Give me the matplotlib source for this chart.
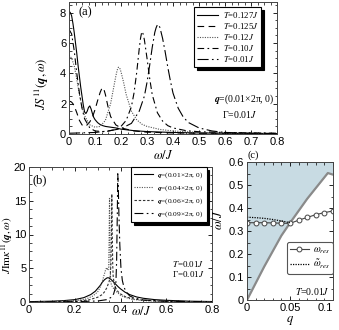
import matplotlib
matplotlib.use("Agg")
import matplotlib.pyplot as plt
from matplotlib.ticker import MultipleLocator, FuncFormatter

plt.rcParams['font.family'] = 'serif'
plt.rcParams['font.serif'] = ['Liberation Serif', 'DejaVu Serif']
plt.rcParams['mathtext.fontset'] = 'stix'

# ---------------- panel (a) data ----------------
w_a127 = [0, 0.005, 0.01, 0.015, 0.02, 0.025, 0.03, 0.035, 0.04, 0.045, 0.05, 0.055, 0.06, 0.065, 0.07,
          0.075, 0.08, 0.085, 0.09, 0.095, 0.10, 0.11, 0.12, 0.13, 0.14, 0.16, 0.18, 0.2, 0.25, 0.3, 0.4,
          0.5, 0.6, 0.7, 0.8]
s_a127 = [8.1, 8.0, 7.8, 7.3, 6.7, 6.0, 5.3, 4.5, 3.8, 3.1, 2.5, 1.9, 1.45, 1.35, 1.5,
          1.75, 1.85, 1.65, 1.35, 1.1, 0.95, 0.75, 0.62, 0.55, 0.5, 0.45, 0.4, 0.32, 0.22, 0.16, 0.1,
          0.07, 0.05, 0.04, 0.03]

w_a125 = [0, 0.005, 0.01, 0.015, 0.02, 0.03, 0.04, 0.05, 0.06, 0.07, 0.08, 0.09, 0.10, 0.11, 0.12, 0.125,
          0.13, 0.135, 0.14, 0.15, 0.16, 0.18, 0.2, 0.25, 0.3, 0.4, 0.5, 0.6, 0.8]
s_a125 = [2.1, 2.15, 2.1, 2.0, 1.85, 1.4, 0.9, 0.6, 0.5, 0.6, 0.8, 1.1, 1.6, 2.2, 2.75, 2.95,
          3.05, 2.9, 2.6, 1.8, 1.15, 0.6, 0.4, 0.2, 0.12, 0.07, 0.05, 0.04, 0.02]

w_a12 = [0, 0.01, 0.02, 0.03, 0.04, 0.05, 0.06, 0.08, 0.10, 0.12, 0.14, 0.16, 0.17, 0.18, 0.185, 0.19,
         0.195, 0.2, 0.21, 0.22, 0.24, 0.26, 0.28, 0.3, 0.35, 0.4, 0.5, 0.6, 0.8]
s_a12 = [5.2, 5.0, 4.5, 3.6, 2.6, 1.8, 1.2, 0.6, 0.45, 0.5, 0.9, 2.0, 2.9, 3.8, 4.2, 4.4,
         4.35, 4.1, 3.4, 2.6, 1.5, 0.95, 0.65, 0.5, 0.3, 0.2, 0.1, 0.07, 0.04]

w_a10 = [0, 0.01, 0.02, 0.03, 0.04, 0.05, 0.06, 0.08, 0.10, 0.14, 0.18, 0.2, 0.22, 0.24, 0.25, 0.26,
         0.27, 0.275, 0.28, 0.285, 0.29, 0.3, 0.31, 0.32, 0.34, 0.36, 0.38, 0.4, 0.45, 0.5, 0.6, 0.8]
s_a10 = [6.9, 6.6, 5.5, 4.0, 2.7, 1.7, 1.0, 0.4, 0.2, 0.15, 0.3, 0.5, 0.9, 1.8, 2.7, 4.0,
         5.6, 6.3, 6.75, 6.6, 6.2, 5.0, 3.7, 2.6, 1.4, 0.85, 0.55, 0.4, 0.22, 0.15, 0.1, 0.05]

w_a01 = [0, 0.1, 0.15, 0.2, 0.24, 0.27, 0.29, 0.3, 0.31, 0.32, 0.33, 0.335, 0.34, 0.345, 0.35, 0.36,
         0.37, 0.38, 0.39, 0.4, 0.42, 0.44, 0.46, 0.5, 0.55, 0.6, 0.7, 0.8]
s_a01 = [0.05, 0.1, 0.2, 0.35, 0.7, 1.5, 2.5, 3.4, 4.5, 5.7, 6.7, 7.0, 7.2, 7.2, 7.0, 6.3,
         5.4, 4.4, 3.5, 2.7, 1.7, 1.1, 0.75, 0.4, 0.2, 0.1, 0.05, 0.03]

labels_a = [r"$T$=0.127$J$", r"$T$=0.125$J$", r"$T$=0.12$J$", r"$T$=0.10$J$", r"$T$=0.01$J$"]

# ---------------- panel (b) data ----------------
w_b1 = [0, 0.1, 0.15, 0.2, 0.24, 0.27, 0.29, 0.31, 0.32, 0.33, 0.34, 0.345, 0.35, 0.36, 0.37, 0.38,
        0.39, 0.40, 0.42, 0.44, 0.47, 0.5, 0.55, 0.6, 0.7, 0.8]
v_b1 = [0.05, 0.12, 0.2, 0.35, 0.65, 1.1, 1.6, 2.4, 2.9, 3.3, 3.55, 3.6, 3.55, 3.3, 2.95, 2.6,
        2.25, 1.95, 1.45, 1.1, 0.75, 0.55, 0.35, 0.25, 0.12, 0.07]

w_b4 = [0, 0.1, 0.2, 0.25, 0.28, 0.3, 0.31, 0.32, 0.33, 0.335, 0.34, 0.345, 0.348, 0.35, 0.352, 0.354,
        0.356, 0.358, 0.362, 0.37, 0.38, 0.4, 0.42, 0.45, 0.5, 0.6, 0.8]
v_b4 = [0.03, 0.06, 0.2, 0.45, 0.9, 1.5, 2.1, 3.0, 4.2, 4.8, 5.1, 4.7, 5.0, 9.0, 15.5, 9.0,
        4.0, 2.8, 2.4, 2.0, 1.6, 1.0, 0.7, 0.4, 0.2, 0.08, 0.03]

w_b6 = [0, 0.2, 0.26, 0.3, 0.32, 0.33, 0.34, 0.35, 0.355, 0.358, 0.36, 0.362, 0.364, 0.366, 0.368,
        0.372, 0.38, 0.39, 0.4, 0.42, 0.45, 0.5, 0.6, 0.8]
v_b6 = [0.02, 0.1, 0.3, 0.7, 1.1, 1.5, 2.1, 3.0, 3.8, 5.5, 9.0, 16.0, 10.0, 5.5, 3.8,
        2.8, 2.0, 1.5, 1.2, 0.8, 0.5, 0.25, 0.1, 0.03]

w_b9 = [0, 0.2, 0.3, 0.34, 0.36, 0.37, 0.375, 0.38, 0.383, 0.386, 0.388, 0.39, 0.393, 0.397, 0.402,
        0.408, 0.415, 0.425, 0.44, 0.46, 0.5, 0.6, 0.8]
v_b9 = [0.01, 0.05, 0.15, 0.35, 0.7, 1.2, 1.8, 3.0, 6.0, 13.0, 19.0, 17.5, 13.0, 8.5, 5.0,
        3.2, 2.2, 1.5, 0.9, 0.6, 0.3, 0.1, 0.03]

labels_b = [r"$\boldsymbol{q}$=(0.01×2π, 0)", r"$\boldsymbol{q}$=(0.04×2π, 0)",
            r"$\boldsymbol{q}$=(0.06×2π, 0)", r"$\boldsymbol{q}$=(0.09×2π, 0)"]

# ---------------- panel (c) data ----------------
q_res = [0, 0.01, 0.02, 0.03, 0.04, 0.05, 0.06, 0.07, 0.08, 0.09, 0.10]
w_res = [0.336, 0.336, 0.336, 0.335, 0.334, 0.333, 0.347, 0.359, 0.371, 0.380, 0.387]
q_tres = [0, 0.01, 0.02, 0.03, 0.04, 0.05]
w_tres = [0.360, 0.358, 0.355, 0.350, 0.344, 0.336]
q_bnd = [0, 0.02, 0.04, 0.05, 0.07, 0.094, 0.10]
w_bnd = [0, 0.145, 0.28, 0.335, 0.44, 0.552, 0.545]
c_xticks = [0, 0.05, 0.1]
c_xticklabels = ['0', '0.05', '0.1']

W, H = 339, 330
fig = plt.figure(figsize=(W / 100, H / 100), dpi=100)
fmt = FuncFormatter(lambda v, p: f"{v:g}")


def axes_px(x0, y0, x1, y1):
    return fig.add_axes([x0 / W, 1 - y1 / H, (x1 - x0) / W, (y1 - y0) / H])


def style(ax):
    ax.xaxis.set_major_formatter(fmt)
    ax.yaxis.set_major_formatter(fmt)
    ax.tick_params(which='both', direction='in', top=True, right=True, labelsize=8, pad=2)
    ax.tick_params(which='major', length=3, width=0.6)
    ax.tick_params(which='minor', length=1.8, width=0.5)
    for sp in ax.spines.values():
        sp.set_linewidth(0.7)
        sp.set_color('#444444')
    for lab in ax.get_xticklabels() + ax.get_yticklabels():
        lab.set_fontfamily('Liberation Sans')


# ---- (a)
axa = axes_px(69, 2, 277, 134)
axa.plot(w_a127, s_a127, color='k', lw=0.8, ls='-', label=labels_a[0])
axa.plot(w_a125, s_a125, color='k', lw=0.8, ls=(0, (6, 4)), label=labels_a[1])
axa.plot(w_a12, s_a12, color='#555555', lw=0.8, ls=(0, (1, 1.2)), label=labels_a[2])
axa.plot(w_a10, s_a10, color='k', lw=0.8, ls=(0, (6, 3, 1.5, 3)), label=labels_a[3])
axa.plot(w_a01, s_a01, color='k', lw=0.8, ls=(0, (10, 3, 1.5, 3)), label=labels_a[4])
axa.set_xlim(0, 0.8)
axa.set_ylim(0, 8.7)
axa.xaxis.set_major_locator(MultipleLocator(0.1))
axa.xaxis.set_minor_locator(MultipleLocator(0.025))
axa.yaxis.set_major_locator(MultipleLocator(2))
axa.yaxis.set_minor_locator(MultipleLocator(0.5))
style(axa)
axa.set_ylabel(r"$JS^{11}(\boldsymbol{q},\omega)$", fontsize=9)
axa.yaxis.set_label_coords(-0.085, 0.38)
axa.set_xlabel(r"$\omega/J$", fontsize=9, labelpad=0)
axa.xaxis.set_label_coords(0.45, -0.11)
leg = axa.legend(loc='upper right', bbox_to_anchor=(0.925, 0.962), fontsize=6.3, frameon=True,
                 fancybox=False, edgecolor='k', framealpha=1, handlelength=2.4, handletextpad=0.5,
                 labelspacing=0.12, borderpad=0.35, borderaxespad=0,
                 shadow={'color': 'k', 'alpha': 1})
leg.get_frame().set_linewidth(0.8)
axa.text(0.99, 0.26, r"$\boldsymbol{q}$=(0.01×2π, 0)", transform=axa.transAxes, ha='right',
         va='center', fontsize=7)
axa.text(0.82, 0.145, r"Γ=0.01$J$", transform=axa.transAxes, ha='center', va='center', fontsize=7)
axa.text(0.08, 0.92, "(a)", transform=axa.transAxes, ha='center', va='center', fontsize=9)

# ---- (b)
axb = axes_px(29, 167, 212, 302)
axb.plot(w_b1, v_b1, color='k', lw=0.8, ls='-', label=labels_b[0])
axb.plot(w_b4, v_b4, color='#555555', lw=0.8, ls=(0, (1, 1.2)), label=labels_b[1])
axb.plot(w_b6, v_b6, color='#333333', lw=0.8, ls=(0, (2.2, 1.6)), label=labels_b[2])
axb.plot(w_b9, v_b9, color='k', lw=0.8, ls=(0, (8, 3, 1.5, 3)), label=labels_b[3])
axb.set_xlim(0, 0.8)
axb.set_ylim(0, 20)
axb.xaxis.set_major_locator(MultipleLocator(0.2))
axb.xaxis.set_minor_locator(MultipleLocator(0.05))
axb.yaxis.set_major_locator(MultipleLocator(5))
axb.yaxis.set_minor_locator(MultipleLocator(1.25))
style(axb)
axb.set_ylabel(r"$J\mathrm{Im}\kappa^{11}(\boldsymbol{q},\omega)$", fontsize=8)
axb.yaxis.set_label_coords(-0.078, 0.42)
axb.text(0.61, -0.02, r"$\omega/J$", transform=axb.transAxes, ha='center', va='top', fontsize=9)
legb = axb.legend(loc='upper right', bbox_to_anchor=(0.97, 1.0), fontsize=5.3, frameon=True,
                  fancybox=False, edgecolor='k', framealpha=1, handlelength=2.6, handletextpad=0.5,
                  labelspacing=0.45, borderpad=0.45, borderaxespad=0,
                  shadow={'color': 'k', 'alpha': 1})
legb.get_frame().set_linewidth(0.8)
axb.text(0.96, 0.28, r"$T$=0.01$J$", transform=axb.transAxes, ha='right', va='center', fontsize=6.5)
axb.text(0.96, 0.21, r"Γ=0.01$J$", transform=axb.transAxes, ha='right', va='center', fontsize=6.5)
axb.text(0.06, 0.9, "(b)", transform=axb.transAxes, ha='center', va='center', fontsize=9)

# ---- (c)
axc = axes_px(247, 162, 333, 300)
axc.fill_between(q_bnd, w_bnd, 0.6, color='#c8dbe3', lw=0)
axc.plot(q_bnd, w_bnd, color='#8a8a8a', lw=1.6)
axc.plot(q_res, w_res, color='#444444', lw=0.8, marker='o', ms=3.5, mfc='white', mec='#444444',
         mew=0.7, label=r"$\omega_{\mathit{res}}$")
axc.plot(q_tres, w_tres, color='k', lw=0.9, ls=(0, (1, 1)), label=r"$\tilde{\omega}_{\mathit{res}}$")
axc.set_xlim(0, 0.1)
axc.set_ylim(0, 0.6)
axc.yaxis.set_major_locator(MultipleLocator(0.1))
axc.yaxis.set_minor_locator(MultipleLocator(0.05))
axc.xaxis.set_minor_locator(MultipleLocator(0.01))
style(axc)
axc.set_xticks(c_xticks)
axc.set_xticklabels(c_xticklabels, fontfamily='Liberation Sans', fontsize=8)
axc.get_xticklabels()[-1].set_ha('right')
axc.set_ylabel(r"$\omega/J$", fontsize=9)
axc.yaxis.set_label_coords(-0.25, 0.58)
axc.set_xlabel(r"$q$", fontsize=9)
axc.xaxis.set_label_coords(0.5, -0.1)
legc = axc.legend(loc='lower right', bbox_to_anchor=(1.0, 0.19), fontsize=7, frameon=True,
                  fancybox=True, edgecolor='#555555', framealpha=1, handlelength=2.0,
                  handletextpad=0.4, labelspacing=0.2, borderpad=0.3, borderaxespad=0)
legc.get_frame().set_linewidth(0.8)
axc.text(0.96, 0.06, r"$T$=0.01$J$", transform=axc.transAxes, ha='right', va='center', fontsize=7)
fig.text(253 / W, 1 - 155 / H, "(c)", ha='center', va='center', fontsize=7.5)

fig.savefig("out.png", dpi=100)
